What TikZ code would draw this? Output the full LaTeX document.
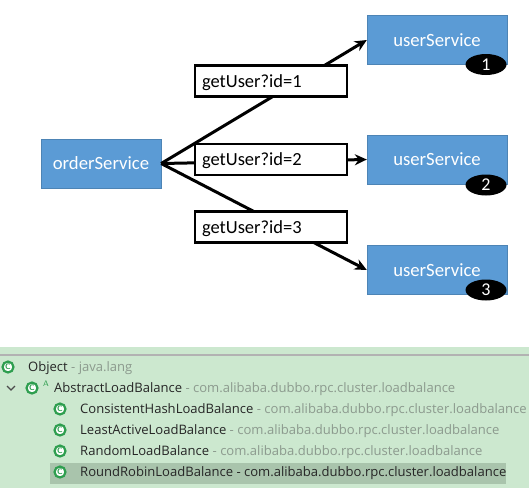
\documentclass[tikz,border=0pt]{standalone}
\usepackage{fontspec}
\setmainfont{Carlito}
\newfontfamily\treefont{Open Sans}
\usepackage{xcolor}
\usetikzlibrary{arrows.meta, positioning, shapes.geometric}
\definecolor{boxblue}{HTML}{5B9BD5}
\definecolor{panelgreen}{HTML}{CCE8CF}
\definecolor{rowgreen}{HTML}{A9C4AC}
\definecolor{iconC}{HTML}{2E9E4F}
\definecolor{pkggray}{HTML}{8C9A8E}
\begin{document}
\begin{tikzpicture}[x=1pt, y=-1pt, >=Stealth,
  service/.style={draw=boxblue!85!black, fill=boxblue, text=white, font=\fontsize{18.7}{20}\selectfont, minimum height=49pt, inner sep=0pt},
  call/.style={-{Stealth[length=12pt, width=11pt]}, line width=3pt, black},
  request/.style={draw=black, line width=2.6pt, fill=white, font=\fontsize{18.5}{20}\selectfont, minimum width=152pt, minimum height=31pt, inner sep=0pt, text width=138pt, align=left, text height=15pt, text depth=3pt},
  badge/.style={ellipse, fill=black, text=white, font=\fontsize{18}{18}\selectfont, minimum width=41pt, minimum height=21pt, inner sep=0pt},
  icon/.style={circle, draw=iconC, line width=2.2pt, fill=white, text=iconC, font=\fontsize{8}{8}\selectfont\bfseries\sffamily, minimum size=11pt, inner sep=0pt},
  cls/.style={anchor=west, inner sep=0pt, text=black!85, font=\treefont\fontsize{13.05}{15}\selectfont}
]
  \useasboundingbox (0,0) rectangle (529,488);
  % services
  \node[service, minimum width=120pt] (order) at (101,163.5) {orderService};
  \node[service, minimum width=140pt] (user1) at (437,40) {userService};
  \node[service, minimum width=140pt] (user2) at (437,159.5) {userService};
  \node[service, minimum width=140pt] (user3) at (437,270) {userService};
  \node[badge] (num1) at (486,64.5) {1};
  \node[badge] (num2) at (486,185) {2};
  \node[badge] (num3) at (486,290) {3};
  % calls
  \draw[call] (order.east) -- (user1.west);
  \draw[call] (order.east) -- (user2.west);
  \draw[call] (order.east) -- (user3.west);
  \node[request] (req1) at (271,81) {getUser?id=1};
  \node[request] (req2) at (271,159.5) {getUser?id=2};
  \node[request] (req3) at (271,227) {getUser?id=3};
  % hierarchy panel
  \fill[panelgreen] (0,347) rectangle (529,488);
  \fill[black!30] (0,354) rectangle (529,355.5);
  \fill[rowgreen] (50,463) rectangle (506,484);
  \node[icon] (iconObject) at (8,367) {C};
  \node[cls] (object) at (28,368.5) {Object {\color{pkggray}- java.lang}};
  \node[icon] (iconAbstract) at (32,388) {C};
  \node[cls, text=iconC, font=\fontsize{8}{8}\selectfont\sffamily] (abstractMark) at (43,384) {A};
  \node[cls] (abstract) at (54,389.5) {AbstractLoadBalance {\color{pkggray}- com.alibaba.dubbo.rpc.cluster.loadbalance}};
  \node[icon] (iconHash) at (60,409) {C};
  \node[cls] (hash) at (80,410.5) {ConsistentHashLoadBalance {\color{pkggray}- com.alibaba.dubbo.rpc.cluster.loadbalance}};
  \node[icon] (iconActive) at (60,430) {C};
  \node[cls] (active) at (80,431.5) {LeastActiveLoadBalance {\color{pkggray}- com.alibaba.dubbo.rpc.cluster.loadbalance}};
  \node[icon] (iconRandom) at (60,451) {C};
  \node[cls] (random) at (80,452.5) {RandomLoadBalance {\color{pkggray}- com.alibaba.dubbo.rpc.cluster.loadbalance}};
  \node[icon] (iconRound) at (60,472) {C};
  \node[cls] (round) at (80,473.5) {RoundRobinLoadBalance - com.alibaba.dubbo.rpc.cluster.loadbalance};
  \draw[line width=1.3pt, black!70] (7,386) -- (11,390) -- (15,386);
\end{tikzpicture}
\end{document}
